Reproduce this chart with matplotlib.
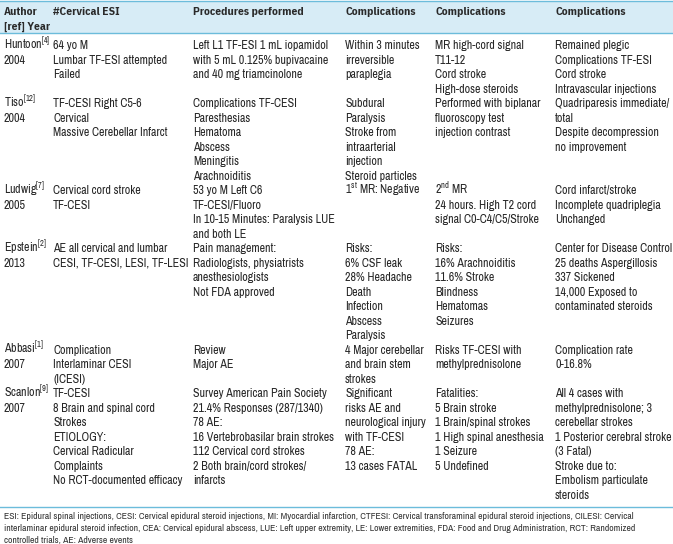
import matplotlib
matplotlib.use('Agg')
import matplotlib.pyplot as plt
from matplotlib.patches import Rectangle

plt.rcParams['font.family'] = ['Archivo Narrow', 'DejaVu Sans']
plt.rcParams['mathtext.fontset'] = 'custom'
plt.rcParams['mathtext.rm'] = 'Archivo Narrow'
plt.rcParams['mathtext.it'] = 'Archivo Narrow'
plt.rcParams['mathtext.bf'] = 'Archivo Narrow'

headers = [['Author', '[ref] Year'], ['#Cervical ESI'], ['Procedures performed'],
           ['Complications'], ['Complications'], ['Complications']]

authors = ['Huntoon', 'Tiso', 'Ludwig', 'Epstein', 'Abbasi', 'Scanlon']
refs = ['4', '12', '7', '2', '1', '9']
years = ['2004', '2004', '2005', '2013', '2007', '2007']

cervical_esi = [
    ['64 yo M', 'Lumbar TF-ESI attempted', 'Failed'],
    ['TF-CESI Right C5-6', 'Cervical', 'Massive Cerebellar Infarct'],
    ['Cervical cord stroke', 'TF-CESI'],
    ['AE all cervical and lumbar', 'CESI, TF-CESI, LESI, TF-LESI'],
    ['Complication', 'Interlaminar CESI', '(ICESI)'],
    ['TF-CESI', '8 Brain and spinal cord', 'Strokes', 'ETIOLOGY:', 'Cervical Radicular',
     'Complaints', 'No RCT-documented efficacy'],
]
procedures = [
    ['Left L1 TF-ESI 1 mL iopamidol', 'with 5 mL 0.125% bupivacaine', 'and 40 mg triamcinolone'],
    ['Complications TF-CESI', 'Paresthesias', 'Hematoma', 'Abscess', 'Meningitis', 'Arachnoiditis'],
    ['53 yo M Left C6', 'TF-CESI/Fluoro', 'In 10-15 Minutes: Paralysis LUE', 'and both LE'],
    ['Pain management:', 'Radiologists, physiatrists', 'anesthesiologists', 'Not FDA approved'],
    ['Review', 'Major AE'],
    ['Survey American Pain Society', '21.4% Responses (287/1340)', '78 AE:',
     '16 Vertebrobasilar brain strokes', '112 Cervical cord strokes', '2 Both brain/cord strokes/',
     'infarcts'],
]
complications_1 = [
    ['Within 3 minutes', 'irreversible', 'paraplegia'],
    ['Subdural', 'Paralysis', 'Stroke from', 'intraarterial', 'injection', 'Steroid particles'],
    ['1$^{\\mathrm{st}}$ MR: Negative'],
    ['Risks:', '6% CSF leak', '28% Headache', 'Death', 'Infection', 'Abscess', 'Paralysis'],
    ['4 Major cerebellar', 'and brain stem', 'strokes'],
    ['Significant', 'risks AE and', 'neurological injury', 'with TF-CESI', '78 AE:', '13 cases FATAL'],
]
complications_2 = [
    ['MR high-cord signal', 'T11-12', 'Cord stroke', 'High-dose steroids'],
    ['Performed with biplanar', 'fluoroscopy test', 'injection contrast'],
    ['2$^{\\mathrm{nd}}$ MR', '24 hours. High T2 cord', 'signal C0-C4/C5/Stroke'],
    ['Risks:', '16% Arachnoiditis', '11.6% Stroke', 'Blindness', 'Hematomas', 'Seizures'],
    ['Risks TF-CESI with', 'methylprednisolone'],
    ['Fatalities:', '5 Brain stroke', '1 Brain/spinal strokes', '1 High spinal anesthesia',
     '1 Seizure', '5 Undefined'],
]
complications_3 = [
    ['Remained plegic', 'Complications TF-ESI', 'Cord stroke', 'Intravascular injections'],
    ['Quadriparesis immediate/', 'total', 'Despite decompression', 'no improvement'],
    ['Cord infarct/stroke', 'Incomplete quadriplegia', 'Unchanged'],
    ['Center for Disease Control', '25 deaths Aspergillosis', '337 Sickened', '14,000 Exposed to',
     'contaminated steroids'],
    ['Complication rate', '0-16.8%'],
    ['All 4 cases with', 'methylprednisolone; 3', 'cerebellar strokes', '1 Posterior cerebral stroke',
     '(3 Fatal)', 'Stroke due to:', 'Embolism particulate', 'steroids'],
]
footnote = [
    'ESI: Epidural spinal injections, CESI: Cervical epidural steroid injections, MI: Myocardial infarction, '
    'CTFESI: Cervical transforaminal epidural steroid injections, CILESI: Cervical',
    'interlaminar epidural steroid infection, CEA: Cervical epidural abscess, LUE: Left upper extremity, '
    'LE: Lower extremities, FDA: Food and Drug Administration, RCT: Randomized',
    'controlled trials, AE: Adverse events',
]

# layout in pixels
W, H = 673, 544
col_x = [4, 53, 193, 345, 435, 555]
line_h = 14.5
first_row = 45
pt = 72 / 100  # px -> pt at dpi 100
body_size = 12 * pt
text_col = '#262626'
rule_col = '#6cbcdb'
head_bg = '#d7ecf6'
head_font = ['IBM Plex Sans Condensed', 'DejaVu Sans']

fig = plt.figure(figsize=(W / 100, H / 100), dpi=100)
ax = fig.add_axes([0, 0, 1, 1])
ax.set_xlim(0, W)
ax.set_ylim(H, 0)
ax.axis('off')

def put(x, yc, s, **kw):
    ax.text(x, yc + 4.2, s, ha='left', va='baseline', fontsize=kw.pop('size', body_size),
            color=kw.pop('color', text_col), **kw)

# header
ax.add_patch(Rectangle((0, 1), W, 32, facecolor=head_bg, edgecolor='none'))
ax.plot([0, W], [1, 1], color=rule_col, lw=1.0)
ax.plot([0, W], [33, 33], color=rule_col, lw=1.0)
for x, lines in zip(col_x, headers):
    for i, s in enumerate(lines):
        put(x, 11 + i * line_h, s, fontweight='bold', family=head_font, color='#2a2a2a',
            size=11.5 * pt)

# body rows
columns = [cervical_esi, procedures, complications_1, complications_2, complications_3]
y = first_row
for r in range(len(authors)):
    put(col_x[0], y, authors[r] + '$^{\\mathrm{[' + refs[r] + ']}}$')
    put(col_x[0], y + line_h, years[r])
    n = 2
    for x, col in zip(col_x[1:], columns):
        for i, s in enumerate(col[r]):
            put(x, y + i * line_h, s)
        n = max(n, len(col[r]))
    y += n * line_h

bottom = y - line_h + 12
ax.plot([0, W], [bottom, bottom], color=rule_col, lw=1.0)

for i, s in enumerate(footnote):
    put(4, bottom + 8 + i * 12, s, size=9.7 * pt, color='#333333')

fig.savefig('out.png', dpi=100)
